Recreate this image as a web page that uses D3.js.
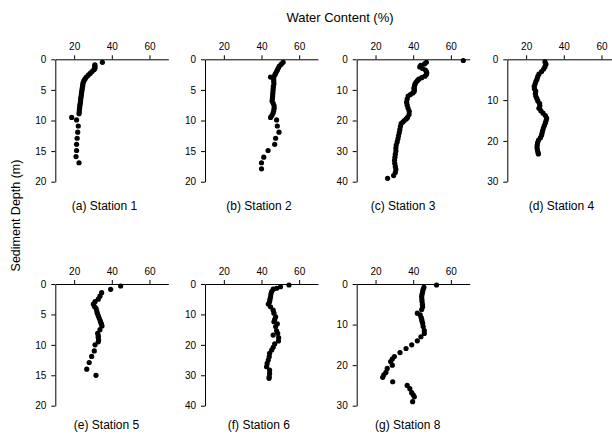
<!DOCTYPE html>
<html>
<head>
<meta charset="utf-8">
<script src="https://cdn.jsdelivr.net/npm/d3@7"></script>
<style>
  body { margin: 0; background: #fff; }
  svg { display: block; }
  text { font-family: "Liberation Sans", Arial, sans-serif; fill: #000; }
</style>
</head>
<body>
<div id="chart"></div>
<script>
// water content (%) vs sediment depth (m), one array per station: [depth, water]
var st1 = [[0.5,35],[0.9,31],[1.1,31],[1.3,31],[1.5,31],[1.7,30.5],[2.0,29.5],[2.3,28.5],[2.6,27.5],[2.9,26.5],[3.2,25.8],[3.5,25.2],[3.8,24.8],[4.1,24.6],[4.4,24.5],[4.7,24.3],[5.0,24.2],[5.3,24.0],[5.6,23.9],[5.9,23.8],[6.2,23.6],[6.5,23.5],[6.8,23.4],[7.1,23.3],[7.4,23.1],[7.7,23.0],[8.0,22.9],[8.3,22.8],[8.6,22.7],[8.9,22.6],[9.5,18.7],[9.9,21.3],[10.9,22.2],[11.9,21.9],[12.9,21.6],[13.9,21.3],[14.9,21.3],[15.9,21.0],[16.9,22.6]];
var st2 = [[0.5,51.5],[0.8,50.5],[1.1,49.5],[1.4,49],[1.7,48.5],[2.0,48],[2.3,47.5],[2.6,47],[2.9,44.8],[3.2,46.5],[3.6,46.5],[4.0,46.6],[4.4,46.3],[4.8,46.2],[5.2,46.1],[5.6,46],[6.0,45.9],[6.4,45.8],[6.8,45.6],[7.2,46.2],[7.6,46.7],[8.0,46.7],[8.4,46.5],[8.8,46.1],[9.2,45.5],[9.5,44.8],[9.9,48],[10.9,48.4],[11.9,49.3],[12.9,47.5],[13.9,47],[14.9,43.5],[16.0,41.2],[16.9,40],[17.9,40]];
var st3 = [[0.4,66.6],[1,47],[1.5,46],[2,44],[2.5,43.5],[3,45],[3.5,46.5],[4,47],[4.5,47.2],[5,47],[5.5,46.2],[6,44.5],[6.5,43],[7,42.2],[7.5,41.5],[8,41],[8.5,40.8],[9,40.6],[9.5,40.4],[10,40.6],[10.5,40.5],[11,39.8],[11.5,38.5],[12,37.3],[13,36.8],[14,36.5],[15,36.8],[16,37.3],[17,37.9],[18,37.8],[19,37],[19.5,36.3],[20,35.3],[20.5,34.5],[21,33.6],[22,33.2],[23,32.9],[24,32.6],[25,32.2],[26,31.9],[27,31.5],[28,31],[29,30.8],[30,30.8],[31,30.5],[32,30.3],[33,30.1],[34,30.2],[35,30.5],[36,30.8],[37,30.5],[38,29.6],[38.9,26.4]];
var st4 = [[0.6,30],[1.2,30.5],[1.8,30],[2.4,29.3],[3,28.2],[3.6,26.8],[4.2,26.2],[4.8,25.8],[5.4,25.2],[6,24.8],[6.6,24.3],[7.2,24.4],[7.8,25.1],[8.4,24.9],[9,25.1],[9.6,25.7],[10.2,26.2],[10.8,27.1],[11.4,27.3],[12,26.8],[12.6,27.8],[13.2,29],[13.8,30.2],[14.4,30.9],[15,30.6],[15.6,30.2],[16.2,29.7],[16.8,29.2],[17.4,28.8],[18,28.5],[18.6,28.2],[19.2,27.6],[19.8,26.6],[20.4,26.1],[21,25.9],[21.6,25.8],[22.2,26],[22.8,26.3],[23.2,26.5]];
var st5 = [[0.33,44.7],[0.88,39.4],[1.43,34.6],[2.0,33.7],[2.5,32.8],[2.9,31.1],[3.3,30.2],[3.7,30.8],[4.0,31.6],[4.4,32],[4.8,32.3],[5.2,32.8],[5.6,33.3],[6.0,33.8],[6.3,34.1],[6.6,34.5],[6.9,34.8],[7.5,33.7],[8.1,32.5],[8.5,32.8],[8.8,32.8],[9.2,33],[9.5,32.8],[10,31.1],[11,30.7],[11.9,29.3],[12.9,28],[14,26.7],[15,31.6]];
var st6 = [[0.33,54.6],[0.9,50.1],[1.4,48],[1.7,46.2],[2.5,45.4],[3.3,45],[4.2,44.8],[5,44.5],[5.8,44.3],[6.6,43.6],[7.5,44.8],[8.6,46.2],[9.6,46.6],[10.8,47.5],[11.6,47],[12.4,46.6],[13.1,48.4],[14,47.5],[15.4,48],[16.2,48.6],[16.8,46.2],[17.6,49.1],[18.7,49],[19.7,47],[20.8,46.2],[21.7,45.4],[22.8,44.3],[23.9,44.1],[25,43.6],[26.1,43],[27.2,42.7],[28.3,44.3],[29.4,44.3],[30.5,44.1],[31,44]];
var st8 = [[0.25,52.4],[0.8,45.7],[1.3,45.3],[1.9,45],[2.5,44.7],[3.1,44.5],[3.7,44.6],[4.3,44.7],[5.0,44.9],[5.6,45],[6.3,44.5],[7.2,42.2],[7.6,43.7],[8.2,44.2],[8.7,44.5],[9.2,44.7],[9.7,45],[10.5,45.3],[11.5,45.9],[12.2,45.9],[13,44.1],[14,42.2],[15,39.2],[15.9,36.2],[16.9,33],[17.9,30],[18.5,28.9],[19.1,28],[20,28.9],[20.8,26.2],[21.8,25.5],[22.4,24.4],[23,23.8],[24.1,29.1],[25,36.8],[25.8,38.2],[26.8,39.2],[27.3,40],[27.8,40.6],[29,39.7]];

var stationData = [st1, st2, st3, st4, st5, st6, st8];
var stationLabels = ["(a) Station 1", "(b) Station 2", "(c) Station 3", "(d) Station 4", "(e) Station 5", "(f) Station 6", "(g) Station 8"];
var depthMax = [20, 20, 40, 30, 20, 40, 30];
var waterTicks = [20, 40, 60];
var waterDomain = [10, 70];

// layout of the small multiples
var panelLeft = [55.3, 205, 356.7, 507.3, 55.3, 205, 356.7];
var panelTop = [59.3, 59.3, 59.3, 59.3, 284, 284, 284];
var panelH = [122.4, 122.4, 122.4, 122.4, 121.7, 121.7, 121.7];
var panelW = 113;
var labelX = [104.5, 259, 403, 561.5, 106.5, 258.8, 407.8];

var svg = d3.select('#chart').append('svg')
    .attr('width', 612)
    .attr('height', 438);

svg.append('text')
    .attr('x', 340)
    .attr('y', 22)
    .attr('text-anchor', 'middle')
    .style('font-size', '13px')
    .text('Water Content (%)');

svg.append('text')
    .attr('transform', 'translate(16,215.5) rotate(-90)')
    .attr('dy', '0.35em')
    .attr('text-anchor', 'middle')
    .style('font-size', '12.5px')
    .text('Sediment Depth (m)');

for (var i = 0; i < stationData.length; i++) {
    var g = svg.append('g')
        .attr('transform', 'translate(' + panelLeft[i] + ',' + panelTop[i] + ')');

    var xScale = d3.scaleLinear().domain(waterDomain).range([0, panelW]);
    var yScale = d3.scaleLinear().domain([0, depthMax[i]]).range([0, panelH[i]]);

    var xAxis = d3.axisTop(xScale).tickValues(waterTicks).tickSize(4).tickPadding(5).tickSizeOuter(0);
    var yAxis = d3.axisLeft(yScale).ticks(depthMax[i] == 30 ? 3 : 4).tickSize(4).tickPadding(5).tickSizeOuter(0);

    var xg = g.append('g').call(xAxis);
    var yg = g.append('g').call(yAxis);
    [xg, yg].forEach(function (a) {
        a.selectAll('path, line').attr('stroke', '#000').attr('stroke-width', 1);
        a.selectAll('text').style('font-size', '10px').style('font-family', '"Liberation Sans", Arial, sans-serif').attr('fill', '#000');
    });

    g.append('g').selectAll('circle')
        .data(stationData[i])
        .enter()
        .append('circle')
        .attr('cx', function (d) { return xScale(d[1]); })
        .attr('cy', function (d) { return yScale(d[0]); })
        .attr('r', 2.6)
        .attr('fill', '#000');

    svg.append('text')
        .attr('x', labelX[i])
        .attr('y', i < 4 ? 210 : 429)
        .attr('text-anchor', 'middle')
        .style('font-size', '12px')
        .text(stationLabels[i]);
}
</script>
</body>
</html>
